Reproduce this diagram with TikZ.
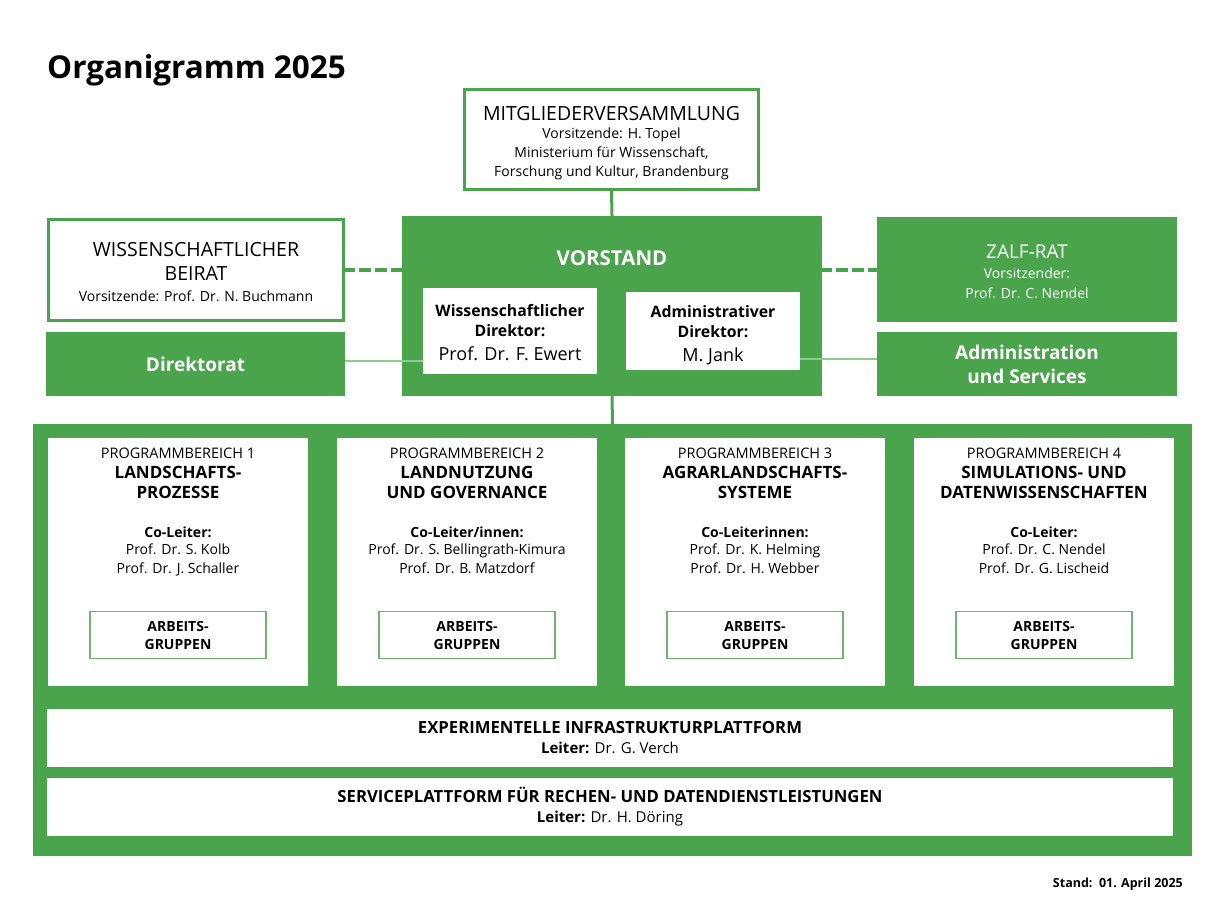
\documentclass[tikz,border=0pt]{standalone}
\usepackage{fontspec}
\setmainfont{Open Sans}
\usetikzlibrary{positioning}
\definecolor{zalfgreen}{RGB}{74,164,76}
\definecolor{linkgreen}{RGB}{140,205,140}

\tikzset{
  outlinebox/.style={draw=zalfgreen, line width=3pt, fill=white, inner sep=0pt, align=center},
  solidbox/.style={fill=zalfgreen, inner sep=0pt, align=center, text=white},
  whitebox/.style={fill=white, inner sep=0pt, align=center},
  boxtext/.style={inner sep=0pt, align=center},
  agbox/.style={draw=zalfgreen!80, line width=1.5pt, fill=white, inner sep=0pt, align=center,
    minimum width=176, minimum height=47, font=\bfseries\fontsize{14}{18}\selectfont},
  trunk/.style={draw=zalfgreen, line width=3pt},
  dashlink/.style={draw=zalfgreen, line width=4pt, dash pattern=on 12pt off 4pt, dash phase=2pt},
  thinlink/.style={draw=linkgreen, line width=1.5pt},
}

\begin{document}
\begin{tikzpicture}[x=1pt,y=-1pt]
\useasboundingbox (0,0) rectangle (1224,918);

% title
\node[anchor=base west, inner sep=0pt, font=\bfseries\fontsize{31.5}{38}\selectfont] (title) at (47,78) {Organigramm 2025};

% top level
\node[outlinebox, minimum width=294, minimum height=100] (mv) at (611.5,139.5) {};
\node[boxtext, font=\fontsize{14}{19}\selectfont] (mvtext) at ([yshift=-3.5pt]mv.center)
  {{\fontsize{19.5}{23}\selectfont MITGLIEDERVERSAMMLUNG}\\[-1pt] Vorsitzende: H. Topel\\ Ministerium für Wissenschaft,\\ Forschung und Kultur, Brandenburg};

\node[outlinebox, minimum width=295, minimum height=101] (beirat) at (196,270) {};
\node[boxtext, font=\fontsize{19.5}{24}\selectfont] (beirattext) at ([yshift=-2.5pt]beirat.center)
  {WISSENSCHAFTLICHER\\ BEIRAT\\[-3pt] {\fontsize{14}{19}\selectfont Vorsitzende: Prof. Dr. N. Buchmann}};
\node[solidbox, minimum width=299, minimum height=64, font=\bfseries\fontsize{19}{24}\selectfont] (direktorat) at (195.5,364) {Direktorat};

\node[solidbox, minimum width=420, minimum height=180] (vorstand) at (612,306) {};
\node[text=white, inner sep=0pt, font=\bfseries\fontsize{20.5}{24}\selectfont] (vorstandtitle) at (612,258) {VORSTAND};
\node[whitebox, minimum width=174, minimum height=86] (wissdir) at (510,331) {};
\node[boxtext, font=\bfseries\fontsize{15.8}{20}\selectfont] (wissdirtext) at ([yshift=-1.5pt]wissdir.center)
  {Wissenschaftlicher\\ Direktor:\\[4pt] {\mdseries\fontsize{18}{23}\selectfont Prof. Dr. F. Ewert}};
\node[whitebox, minimum width=174, minimum height=78] (admdir) at (713,331) {};
\node[boxtext, font=\bfseries\fontsize{15.8}{20}\selectfont] (admdirtext) at ([yshift=-4pt]admdir.center)
  {Administrativer\\ Direktor:\\[4pt] {\mdseries\fontsize{18}{23}\selectfont M. Jank}};

\node[solidbox, minimum width=300, minimum height=105] (zalfrat) at (1027,269.5) {};
\node[boxtext, text=white, font=\fontsize{14}{20}\selectfont] (zalfrattext) at ([yshift=-2.5pt]zalfrat.center)
  {{\fontsize{19}{23}\selectfont ZALF-RAT}\\ Vorsitzender:\\ Prof. Dr. C. Nendel};
\node[solidbox, minimum width=300, minimum height=64, font=\bfseries\fontsize{19}{24}\selectfont] (admin) at (1027,364)
  {Administration\\ und Services};

% connections
\draw[trunk] (mv.south) -- (vorstand.north);
\draw[dashlink] (beirat.east) -- (beirat.east -| vorstand.west);
\draw[dashlink] (zalfrat.west -| vorstand.east) -- (zalfrat.west);
\draw[thinlink] ([yshift=3pt]direktorat.east) -- ([yshift=3pt]direktorat.east -| wissdir.west);
\draw[thinlink] ([yshift=5pt]admin.west -| admdir.east) -- ([yshift=5pt]admin.west);

% research area
\node[solidbox, minimum width=1159, minimum height=432] (forschung) at (612.5,640) {};
\draw[trunk] (vorstand.south) -- (forschung.north);

\foreach \px/\pn/\pa/\pb/\plead/\pp/\pq in {
  178/1/LANDSCHAFTS-/PROZESSE/Co-Leiter:/Prof. Dr. S. Kolb/Prof. Dr. J. Schaller,
  467/2/LANDNUTZUNG/UND GOVERNANCE/{Co-Leiter/innen:}/Prof. Dr. S. Bellingrath-Kimura/Prof. Dr. B. Matzdorf,
  755/3/AGRARLANDSCHAFTS-/SYSTEME/Co-Leiterinnen:/Prof. Dr. K. Helming/Prof. Dr. H. Webber,
  1044/4/SIMULATIONS- UND/DATENWISSENSCHAFTEN/Co-Leiter:/Prof. Dr. C. Nendel/Prof. Dr. G. Lischeid}
{
  \node[whitebox, minimum width=260, minimum height=248] (pb\pn) at (\px,562) {};
  \node[anchor=north, boxtext, font=\fontsize{14}{19}\selectfont] (pbtext\pn) at (\px,448)
    {{\fontsize{14.5}{16}\selectfont PROGRAMMBEREICH \pn}\\[1pt]
     {\bfseries\fontsize{17}{20}\selectfont \pa}\\[1pt]
     {\bfseries\fontsize{17}{20}\selectfont \pb}\\[20pt]
     {\bfseries \plead}\\[-2pt]
     \pp\\ \pq};
  \node[agbox] (ag\pn) at (\px,635) {ARBEITS-\\ GRUPPEN};
}

\node[whitebox, minimum width=1126, minimum height=58, font=\fontsize{15}{20}\selectfont] (infra) at (610,738)
  {{\bfseries\fontsize{16.7}{20}\selectfont EXPERIMENTELLE INFRASTRUKTURPLATTFORM}\\ {\bfseries Leiter:} Dr. G. Verch};
\node[whitebox, minimum width=1126, minimum height=58, font=\fontsize{15}{20}\selectfont] (service) at (610,807)
  {{\bfseries\fontsize{16.7}{20}\selectfont SERVICEPLATTFORM FÜR RECHEN- UND DATENDIENSTLEISTUNGEN}\\ {\bfseries Leiter:} Dr. H. Döring};

% date
\node[anchor=base east, inner sep=0pt, font=\bfseries\fontsize{12.5}{15}\selectfont] (stand) at (1183,887) {Stand:\ \ 01. April 2025};
\end{tikzpicture}
\end{document}
